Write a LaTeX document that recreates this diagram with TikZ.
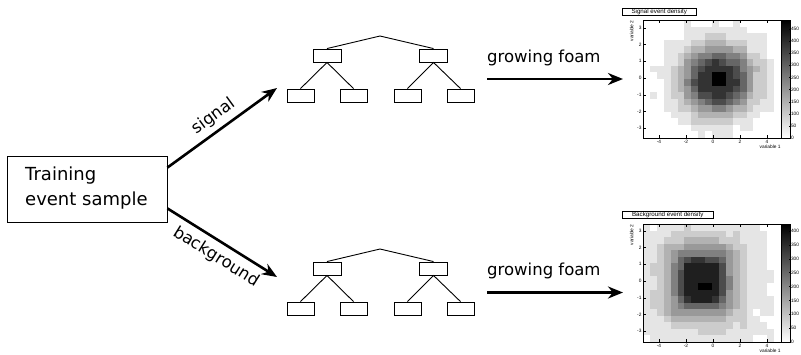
\documentclass[tikz,border=0pt]{standalone}
\usepackage{fontspec}
\setmainfont{DejaVu Sans}
\newfontfamily\rootfont{Liberation Sans}
\usetikzlibrary{arrows.meta}
\tikzset{
  leafbox/.style={draw,line width=0.9pt,minimum width=27pt,minimum height=13pt,inner sep=0pt},
  treeline/.style={line width=0.9pt},
  bigarrow/.style={line width=2.6pt,-{Stealth[length=15pt,width=12pt]}},
  lbl/.style={font=\fontsize{16.5}{18}\selectfont,inner sep=0pt},
  tiny/.style={font=\rootfont\fontsize{4.8}{5}\selectfont,inner sep=0.3pt},
  titlebox/.style={draw,line width=0.5pt,fill=white,font=\rootfont\fontsize{6.2}{6.5}\selectfont,inner sep=0.4pt,minimum height=7pt},
}
\begin{document}
\begin{tikzpicture}[x=1pt,y=-1pt]
\useasboundingbox (0,0) rectangle (801,354);

% Training box
\node[draw,line width=0.9pt,minimum width=160pt,minimum height=66pt,inner sep=0pt] (train) at (87,189) {};
\node[lbl,anchor=west,align=left,font=\fontsize{18}{25}\selectfont] (traintxt) at (25,188) {Training\\event sample};

% arrow tips
\coordinate (stip) at (277,88);
\coordinate (btip) at (277,277);
\draw[bigarrow] ([yshift=-12pt]train.north east) -- node[lbl,sloped,above=5pt] (siglbl) {signal} (stip);
\draw[bigarrow] ([yshift=14pt]train.south east) -- node[lbl,sloped,below=6pt,pos=0.52] (bkglbl) {background} (btip);

% trees
\foreach \p/\dy in {s/0,b/213}{
  \coordinate (\p root) at (380,36+\dy);
  \node[leafbox,minimum width=28pt] (\p A) at (327,55.5+\dy) {};
  \node[leafbox,minimum width=28pt] (\p B) at (433.5,55.5+\dy) {};
  \node[leafbox] (\p A1) at (300.5,95.5+\dy) {};
  \node[leafbox] (\p A2) at (353.5,95.5+\dy) {};
  \node[leafbox] (\p B1) at (407.5,95.5+\dy) {};
  \node[leafbox] (\p B2) at (460.5,95.5+\dy) {};
  \draw[treeline] (\p A.north) -- (\p root) -- (\p B.north);
  \draw[treeline] (\p A1.north) -- (\p A.south) -- (\p A2.north);
  \draw[treeline] (\p B1.north) -- (\p B.south) -- (\p B2.north);
}

% growing foam arrows
\coordinate (gf1s) at (487,79);
\coordinate (gf1e) at (623,79);
\coordinate (gf2s) at (487,292.5);
\coordinate (gf2e) at (623,292.5);
\draw[bigarrow,line width=2.8pt] (gf1s) -- (gf1e);
\draw[bigarrow,line width=2.8pt] (gf2s) -- (gf2e);
\node[lbl,anchor=base west] (gf1t) at (487,62) {growing foam};
\node[lbl,anchor=base west] (gf2t) at (487,275) {growing foam};

% ---------- signal density ----------
\foreach \i in {0,...,19}{
  \foreach \j in {0,...,17}{
    \pgfmathsetmacro\cx{643+\i*6.9}
    \pgfmathsetmacro\cy{20+\j*6.555}
    \pgfmathsetmacro\X{(\cx+3.45-713)/13.5}
    \pgfmathsetmacro\Y{(78-\cy-3.28)/16.7}
    \pgfmathsetmacro\a{(\X-0.35)/1.55}
    \pgfmathsetmacro\b{(\Y+0.1)/1.2}
    \pgfmathsetmacro\rr{\a*\a+\b*\b}
    \pgfmathsetmacro\v{100*exp(-\rr/2.7)+4*sin(150*\X+110*\Y)*cos(90*\Y-60*\X)}
    \pgfmathsetmacro\g{\rr<0.12 ? 100 : max(0,min(80,round(\v/10)*10))}
    \fill[black!\g] (\cx,\cy) rectangle ++(6.95,6.6);
  }
}
\node[draw,line width=0.5pt,minimum width=138pt,minimum height=118pt,inner sep=0pt] (sframe) at (712,79) {};
\shade[top color=black,bottom color=white] (781,20) rectangle (790,138);
\node[draw,line width=0.5pt,minimum width=9pt,minimum height=118pt,inner sep=0pt] (spal) at (785.5,79) {};
\foreach \k in {-4,-2,0,2,4}{
  \node[tiny,anchor=north] at (713+\k*13.5,140) {\k};
  \draw[line width=0.3pt] (713+\k*13.5,138) -- ++(0,-3);
  \draw[line width=0.3pt] (713+\k*13.5,20) -- ++(0,3);
}
\foreach \k in {-3,...,3}{
  \node[tiny,anchor=east] at (642,78-\k*16.7) {\k};
  \draw[line width=0.3pt] (643,78-\k*16.7) -- ++(3,0);
}
\foreach \v in {0,50,...,450}{
  \node[tiny,anchor=west] at (790.5,138-\v*0.2422) {\v};
  \draw[line width=0.3pt] (790,138-\v*0.2422) -- ++(-1.5,0);
}
\node[tiny,anchor=north east] (sx) at (781,145) {variable 1};
\node[tiny,rotate=90,anchor=south east] (sy) at (634,20) {variable 2};
\fill[gray] (623,9) rectangle (697,16);
\node[titlebox,anchor=north west,minimum width=74pt] (stitle) at (622,8) {Signal event density};

% ---------- background density ----------
\foreach \i in {0,...,19}{
  \foreach \j in {0,...,17}{
    \pgfmathsetmacro\cx{643+\i*6.9}
    \pgfmathsetmacro\cy{224+\j*6.555}
    \pgfmathsetmacro\X{(\cx+3.45-713)/13.5}
    \pgfmathsetmacro\Y{(281-\cy-3.28)/16.7}
    \pgfmathsetmacro\a{(\X+0.85)/1.25}
    \pgfmathsetmacro\b{\Y/1.1}
    \pgfmathsetmacro\rr{sqrt(sqrt(\a*\a*\a*\a+\b*\b*\b*\b))}
    \pgfmathsetmacro\v{(\rr<1 ? 88 : 88*exp(-(\rr-1)))+4*sin(150*\X+110*\Y)*cos(90*\Y-60*\X)}
    \pgfmathsetmacro\bar{(\X>-1.2 && \X<0 && \Y>-0.6 && \Y<-0.2) ? 1 : 0}
    \pgfmathsetmacro\g{\bar>0.5 ? 100 : max(0,min(88,round(\v/10)*10))}
    \fill[black!\g] (\cx,\cy) rectangle ++(6.95,6.6);
  }
}
\node[draw,line width=0.5pt,minimum width=138pt,minimum height=118pt,inner sep=0pt] (bframe) at (712,283) {};
\shade[top color=black,bottom color=white] (781,224) rectangle (790,342);
\node[draw,line width=0.5pt,minimum width=9pt,minimum height=118pt,inner sep=0pt] (bpal) at (785.5,283) {};
\foreach \k in {-4,-2,0,2,4}{
  \node[tiny,anchor=north] at (713+\k*13.5,344) {\k};
  \draw[line width=0.3pt] (713+\k*13.5,342) -- ++(0,-3);
  \draw[line width=0.3pt] (713+\k*13.5,224) -- ++(0,3);
}
\foreach \k in {-3,...,3}{
  \node[tiny,anchor=east] at (642,281-\k*16.7) {\k};
  \draw[line width=0.3pt] (643,281-\k*16.7) -- ++(3,0);
}
\foreach \v in {0,50,...,400}{
  \node[tiny,anchor=west] at (790.5,342-\v*0.2775) {\v};
  \draw[line width=0.3pt] (790,342-\v*0.2775) -- ++(-1.5,0);
}
\node[tiny,anchor=north east] (bx) at (781,349) {variable 1};
\node[tiny,rotate=90,anchor=south east] (by) at (634,224) {variable 2};
\fill[gray] (623,212) rectangle (714,219);
\node[titlebox,anchor=north west,minimum width=91pt] (btitle) at (622,211) {Background event density};
\end{tikzpicture}
\end{document}
